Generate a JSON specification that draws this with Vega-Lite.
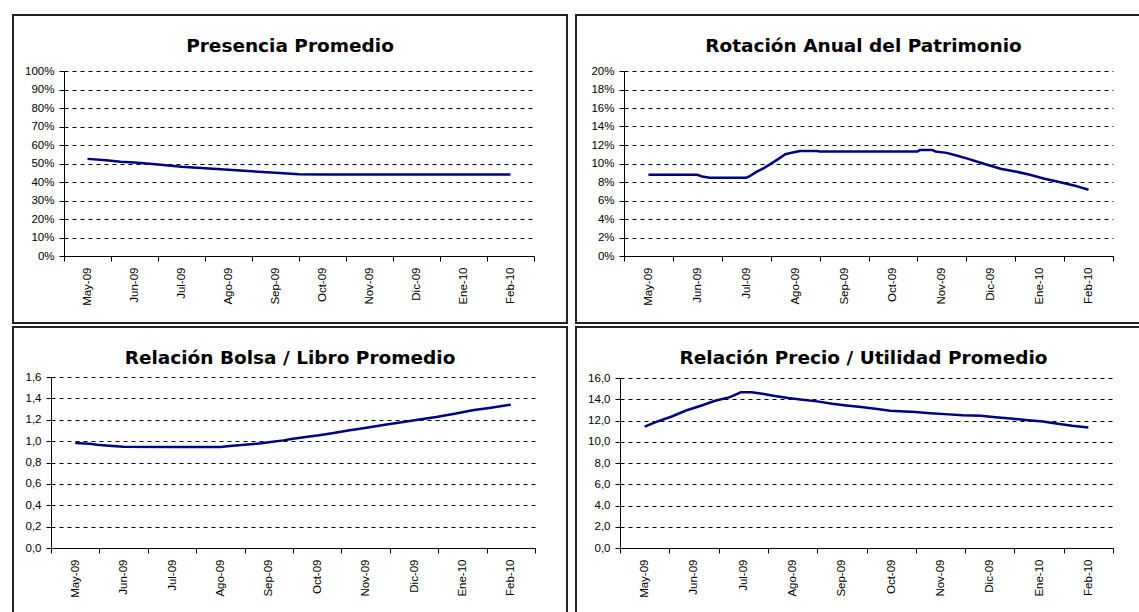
{
  "$schema": "https://vega.github.io/schema/vega-lite/v6.json",
  "background": "white",
  "padding": {"left": 12, "top": 14, "right": 0, "bottom": 0},
  "datasets": {
    "presencia": [
      {"t": 0, "v": 0.525}, {"t": 0.4, "v": 0.518}, {"t": 0.7, "v": 0.51}, {"t": 1, "v": 0.505},
      {"t": 1.5, "v": 0.495}, {"t": 2, "v": 0.483}, {"t": 2.5, "v": 0.474}, {"t": 3, "v": 0.466},
      {"t": 3.5, "v": 0.458}, {"t": 4, "v": 0.45}, {"t": 4.5, "v": 0.442}, {"t": 5, "v": 0.44},
      {"t": 6, "v": 0.44}, {"t": 7, "v": 0.44}, {"t": 8, "v": 0.44}, {"t": 9, "v": 0.44}
    ],
    "rotacion": [
      {"t": 0, "v": 0.0878}, {"t": 1.0, "v": 0.0878}, {"t": 1.1, "v": 0.086}, {"t": 1.25, "v": 0.0846},
      {"t": 2.0, "v": 0.0846}, {"t": 2.06, "v": 0.086}, {"t": 2.2, "v": 0.0907}, {"t": 2.36, "v": 0.095},
      {"t": 2.5, "v": 0.0996}, {"t": 2.66, "v": 0.105}, {"t": 2.8, "v": 0.11}, {"t": 2.95, "v": 0.112},
      {"t": 3.1, "v": 0.1135}, {"t": 3.45, "v": 0.1135}, {"t": 3.5, "v": 0.113}, {"t": 5.5, "v": 0.113},
      {"t": 5.55, "v": 0.1147}, {"t": 5.8, "v": 0.1147}, {"t": 5.87, "v": 0.113}, {"t": 6.1, "v": 0.1115},
      {"t": 6.3, "v": 0.1086}, {"t": 6.54, "v": 0.105}, {"t": 6.76, "v": 0.1014}, {"t": 6.98, "v": 0.0978},
      {"t": 7.2, "v": 0.0943}, {"t": 7.5, "v": 0.0914}, {"t": 7.8, "v": 0.0878}, {"t": 8.1, "v": 0.0835},
      {"t": 8.4, "v": 0.08}, {"t": 8.7, "v": 0.0763}, {"t": 9.0, "v": 0.0717}
    ],
    "bolsa": [
      {"t": 0, "v": 0.982}, {"t": 0.3, "v": 0.975}, {"t": 0.45, "v": 0.967}, {"t": 0.7, "v": 0.957},
      {"t": 1.0, "v": 0.947}, {"t": 2, "v": 0.945}, {"t": 3, "v": 0.945}, {"t": 3.2, "v": 0.955},
      {"t": 3.5, "v": 0.967}, {"t": 3.85, "v": 0.98}, {"t": 4.0, "v": 0.99}, {"t": 4.3, "v": 1.007},
      {"t": 4.5, "v": 1.023}, {"t": 4.8, "v": 1.04}, {"t": 5.04, "v": 1.054}, {"t": 5.34, "v": 1.076},
      {"t": 5.64, "v": 1.1}, {"t": 6.02, "v": 1.126}, {"t": 6.4, "v": 1.154}, {"t": 6.78, "v": 1.179},
      {"t": 7.08, "v": 1.2}, {"t": 7.46, "v": 1.226}, {"t": 7.84, "v": 1.257}, {"t": 8.21, "v": 1.288},
      {"t": 8.59, "v": 1.313}, {"t": 9, "v": 1.341}
    ],
    "precio": [
      {"t": 0, "v": 11.43}, {"t": 0.25, "v": 11.9}, {"t": 0.55, "v": 12.38}, {"t": 0.84, "v": 12.94},
      {"t": 1.14, "v": 13.39}, {"t": 1.43, "v": 13.86}, {"t": 1.73, "v": 14.2}, {"t": 1.95, "v": 14.65},
      {"t": 2.17, "v": 14.65}, {"t": 2.39, "v": 14.52}, {"t": 2.61, "v": 14.33}, {"t": 2.91, "v": 14.11},
      {"t": 3.2, "v": 13.95}, {"t": 3.5, "v": 13.8}, {"t": 3.8, "v": 13.57}, {"t": 4.09, "v": 13.42},
      {"t": 4.39, "v": 13.26}, {"t": 4.68, "v": 13.1}, {"t": 4.98, "v": 12.91}, {"t": 5.27, "v": 12.85},
      {"t": 5.49, "v": 12.79}, {"t": 5.79, "v": 12.69}, {"t": 6.09, "v": 12.6}, {"t": 6.45, "v": 12.5},
      {"t": 6.82, "v": 12.44}, {"t": 7.12, "v": 12.31}, {"t": 7.42, "v": 12.19}, {"t": 7.78, "v": 12.03},
      {"t": 8.08, "v": 11.9}, {"t": 8.38, "v": 11.69}, {"t": 8.67, "v": 11.5}, {"t": 9, "v": 11.34}
    ]
  },
  "config": {
    "view": {"stroke": "#222222", "strokeWidth": 2, "fill": "white"},
    "axis": {
      "title": null,
      "domainColor": "black",
      "domainWidth": 1,
      "tickColor": "black",
      "tickWidth": 1,
      "tickSize": 5,
      "labelColor": "black",
      "labelFont": "Liberation Sans",
      "labelFontSize": 11.5,
      "gridColor": "black",
      "gridDash": [4, 4],
      "gridWidth": 1,
      "gridOpacity": 1,
      "labelOverlap": false,
      "labelFlush": false
    },
    "title": {
      "font": "DejaVu Sans",
      "fontSize": 18.5,
      "fontWeight": "bold",
      "color": "black",
      "anchor": "middle",
      "frame": "group",
      "baseline": "middle",
      "offset": -40
    }
  },
  "columns": 2,
  "spacing": {"row": 4, "column": 9},
  "bounds": "flush",
  "concat": [
    {
      "width": 554,
      "height": 308,
      "title": "Presencia Promedio",
      "data": {"name": "presencia"},
      "mark": {"type": "line", "color": "#000080", "strokeWidth": 2.5},
      "encoding": {
        "x": {
          "field": "t", "type": "quantitative",
          "scale": {"domain": [-0.5, 9.5], "range": [51, 521], "nice": false, "zero": false},
          "axis": {
            "values": [-0.5, 0, 0.5, 1, 1.5, 2, 2.5, 3, 3.5, 4, 4.5, 5, 5.5, 6, 6.5, 7, 7.5, 8, 8.5, 9, 9.5],
            "labelExpr": "datum.value % 1 === 0 ? ['May-09','Jun-09','Jul-09','Ago-09','Sep-09','Oct-09','Nov-09','Dic-09','Ene-10','Feb-10'][datum.value] : ''",
            "labelAngle": 270,
            "labelPadding": 6,
            "tickOpacity": {"condition": {"test": "datum.value % 1 === 0", "value": 0}, "value": 1},
            "grid": false,
            "offset": -67
          }
        },
        "y": {
          "field": "v", "type": "quantitative",
          "scale": {"domain": [0, 1], "range": [241, 56], "nice": false, "zero": true},
          "axis": {
            "values": [0, 0.1, 0.2, 0.3, 0.4, 0.5, 0.6, 0.7, 0.8, 0.9, 1],
            "format": ".0%",
            "grid": true,
            "labelPadding": 5,
            "offset": -51
          }
        }
      }
    },
    {
      "width": 575,
      "height": 308,
      "title": "Rotación Anual del Patrimonio",
      "data": {"name": "rotacion"},
      "mark": {"type": "line", "color": "#000080", "strokeWidth": 2.5},
      "encoding": {
        "x": {
          "field": "t", "type": "quantitative",
          "scale": {"domain": [-0.5, 9.5], "range": [48, 537], "nice": false, "zero": false},
          "axis": {
            "values": [-0.5, 0, 0.5, 1, 1.5, 2, 2.5, 3, 3.5, 4, 4.5, 5, 5.5, 6, 6.5, 7, 7.5, 8, 8.5, 9, 9.5],
            "labelExpr": "datum.value % 1 === 0 ? ['May-09','Jun-09','Jul-09','Ago-09','Sep-09','Oct-09','Nov-09','Dic-09','Ene-10','Feb-10'][datum.value] : ''",
            "labelAngle": 270,
            "labelPadding": 6,
            "tickOpacity": {"condition": {"test": "datum.value % 1 === 0", "value": 0}, "value": 1},
            "grid": false,
            "offset": -67
          }
        },
        "y": {
          "field": "v", "type": "quantitative",
          "scale": {"domain": [0, 0.2], "range": [241, 56], "nice": false, "zero": true},
          "axis": {
            "values": [0, 0.02, 0.04, 0.06, 0.08, 0.1, 0.12, 0.14, 0.16, 0.18, 0.2],
            "format": ".0%",
            "grid": true,
            "labelPadding": 5,
            "offset": -48
          }
        }
      }
    },
    {
      "width": 554,
      "height": 308,
      "title": "Relación Bolsa / Libro Promedio",
      "data": {"name": "bolsa"},
      "mark": {"type": "line", "color": "#000080", "strokeWidth": 2.5},
      "encoding": {
        "x": {
          "field": "t", "type": "quantitative",
          "scale": {"domain": [-0.5, 9.5], "range": [38, 522], "nice": false, "zero": false},
          "axis": {
            "values": [-0.5, 0, 0.5, 1, 1.5, 2, 2.5, 3, 3.5, 4, 4.5, 5, 5.5, 6, 6.5, 7, 7.5, 8, 8.5, 9, 9.5],
            "labelExpr": "datum.value % 1 === 0 ? ['May-09','Jun-09','Jul-09','Ago-09','Sep-09','Oct-09','Nov-09','Dic-09','Ene-10','Feb-10'][datum.value] : ''",
            "labelAngle": 270,
            "labelPadding": 6,
            "tickOpacity": {"condition": {"test": "datum.value % 1 === 0", "value": 0}, "value": 1},
            "grid": false,
            "offset": -87
          }
        },
        "y": {
          "field": "v", "type": "quantitative",
          "scale": {"domain": [0, 1.6], "range": [221, 50], "nice": false, "zero": true},
          "axis": {
            "values": [0, 0.2, 0.4, 0.6, 0.8, 1, 1.2, 1.4, 1.6],
            "labelExpr": "replace(format(datum.value, '.1f'), '.', ',')",
            "grid": true,
            "labelPadding": 5,
            "offset": -38
          }
        }
      }
    },
    {
      "width": 575,
      "height": 308,
      "title": "Relación Precio / Utilidad Promedio",
      "data": {"name": "precio"},
      "mark": {"type": "line", "color": "#000080", "strokeWidth": 2.5},
      "encoding": {
        "x": {
          "field": "t", "type": "quantitative",
          "scale": {"domain": [-0.5, 9.5], "range": [44, 537], "nice": false, "zero": false},
          "axis": {
            "values": [-0.5, 0, 0.5, 1, 1.5, 2, 2.5, 3, 3.5, 4, 4.5, 5, 5.5, 6, 6.5, 7, 7.5, 8, 8.5, 9, 9.5],
            "labelExpr": "datum.value % 1 === 0 ? ['May-09','Jun-09','Jul-09','Ago-09','Sep-09','Oct-09','Nov-09','Dic-09','Ene-10','Feb-10'][datum.value] : ''",
            "labelAngle": 270,
            "labelPadding": 6,
            "tickOpacity": {"condition": {"test": "datum.value % 1 === 0", "value": 0}, "value": 1},
            "grid": false,
            "offset": -87
          }
        },
        "y": {
          "field": "v", "type": "quantitative",
          "scale": {"domain": [0, 16], "range": [221, 51], "nice": false, "zero": true},
          "axis": {
            "values": [0, 2, 4, 6, 8, 10, 12, 14, 16],
            "labelExpr": "replace(format(datum.value, '.1f'), '.', ',')",
            "grid": true,
            "labelPadding": 5,
            "offset": -44
          }
        }
      }
    }
  ]
}
